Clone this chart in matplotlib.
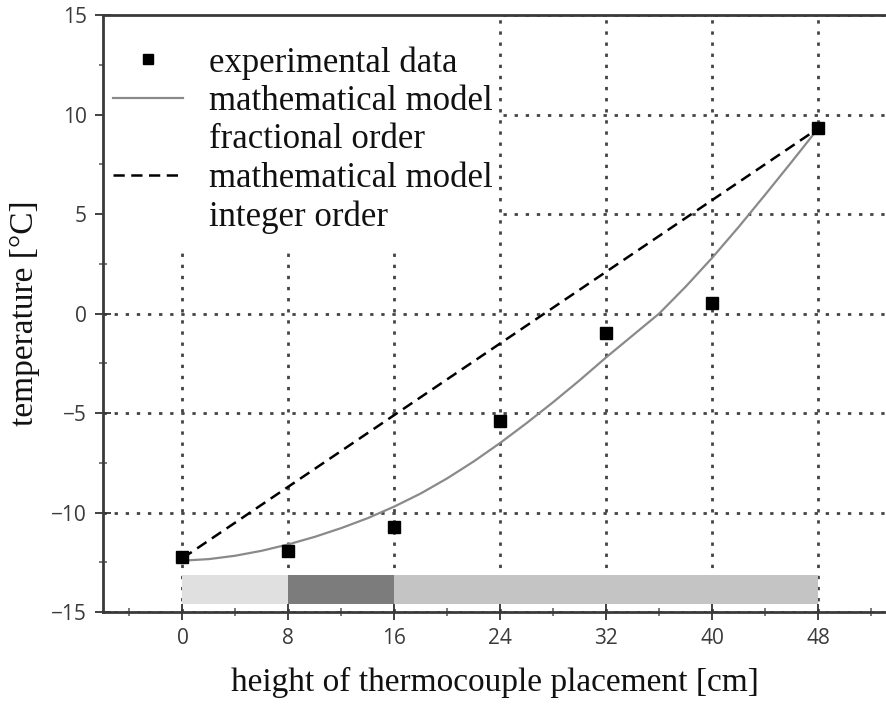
import matplotlib
matplotlib.use("Agg")
import matplotlib.pyplot as plt
from matplotlib.lines import Line2D
from matplotlib.patches import Rectangle
from matplotlib.ticker import MultipleLocator

# ---- data ----
exp_x = [0, 8, 16, 24, 32, 40, 48]
exp_y = [-12.25, -11.95, -10.75, -5.4, -1.0, 0.55, 9.3]

frac_x = [0, 2, 4, 6, 8, 10, 12, 14, 16, 18, 20, 22, 24,
          26, 28, 30, 32, 34, 36, 38, 40, 42, 44, 46, 48]
frac_y = [-12.42, -12.34, -12.17, -11.92, -11.6, -11.22, -10.78, -10.28, -9.7, -9.04,
          -8.28, -7.43, -6.5, -5.5, -4.45, -3.35, -2.2, -1.1, 0.0, 1.35,
          2.8, 4.35, 5.97, 7.62, 9.3]

int_x = [0, 48]
int_y = [-12.3, 9.3]

seg_start = [0, 8, 16]
seg_width = [8, 8, 32]
seg_colors = ["#e0e0e0", "#7c7c7c", "#c4c4c4"]
seg_bottom = -14.6
seg_height = 1.45

x_ticks = [0, 8, 16, 24, 32, 40, 48]
y_ticks = [-15, -10, -5, 0, 5, 10, 15]

legend_labels = ["experimental data", "mathematical model", "fractional order",
                 "mathematical model", "integer order"]
xlabel = "height of thermocouple placement [cm]"
ylabel = "temperature [°C]"

serif = ["Liberation Serif", "DejaVu Serif"]
sans = ["Open Sans", "DejaVu Sans"]

fig = plt.figure(figsize=(8.87, 7.11), dpi=100)
ax = fig.add_axes([0.1161, 0.1392, 0.8839, 0.8397])
ax.set_xlim(-6, 53.2)
ax.set_ylim(-15, 15)

# grid
ax.set_axisbelow(True)
ax.set_xticks(x_ticks)
ax.set_yticks(y_ticks)
ax.xaxis.set_minor_locator(MultipleLocator(4))
ax.yaxis.set_minor_locator(MultipleLocator(2.5))
ax.grid(True, which="major", color="#444444", linestyle=(0, (1.2, 2.8)), linewidth=2.0)

# white legend backdrop
ax.add_patch(Rectangle((0, 0.611), 0.5026, 0.389, transform=ax.transAxes,
                       facecolor="white", edgecolor="none", zorder=1.2))

# bottom strips
ax.broken_barh(list(zip(seg_start, seg_width)), (seg_bottom, seg_height),
               facecolors=seg_colors, edgecolor="none", zorder=1.5)

# lines
l_frac, = ax.plot(frac_x, frac_y, color="#8a8a8a", linewidth=1.6, zorder=3)
l_int, = ax.plot(int_x, int_y, color="black", linewidth=1.8, dashes=(4.5, 2.6), zorder=3)
l_exp, = ax.plot(exp_x, exp_y, linestyle="none", marker="s", markersize=9,
                 color="black", zorder=4)

empty = Line2D([], [], linestyle="none")
handles = [Line2D([], [], linestyle="none", marker="s", markersize=7, color="black"),
           l_frac, empty, l_int, empty]
leg = ax.legend(handles, legend_labels, loc="upper left", bbox_to_anchor=(0.013, 0.948),
                frameon=False, prop={"family": serif, "size": 25},
                handlelength=2.0, handletextpad=0.75, labelspacing=0.155,
                borderaxespad=0, borderpad=0)
leg.set_zorder(5)
for t in leg.get_texts():
    t.set_color("#111111")

# spines
ax.spines["right"].set_visible(False)
for s in ["left", "bottom", "top"]:
    ax.spines[s].set_color("#3a3a3a")
    ax.spines[s].set_linewidth(2.0)

# ticks
ax.tick_params(axis="both", which="major", direction="inout", length=11, width=1.3,
               color="#333333", labelsize=15, labelcolor="#3a3a3a")
ax.tick_params(axis="both", which="minor", direction="inout", length=6, width=1.1,
               color="#555555")
ax.tick_params(axis="x", which="major", pad=6)
ax.tick_params(axis="y", which="major", pad=6)
for lab in ax.get_xticklabels() + ax.get_yticklabels():
    lab.set_family(sans)

ax.set_xlabel(xlabel, family=serif, fontsize=24, color="#111111", labelpad=13)
ax.set_ylabel(ylabel, family=serif, fontsize=24, color="#111111", labelpad=8)

fig.savefig("out.png", dpi=100)
